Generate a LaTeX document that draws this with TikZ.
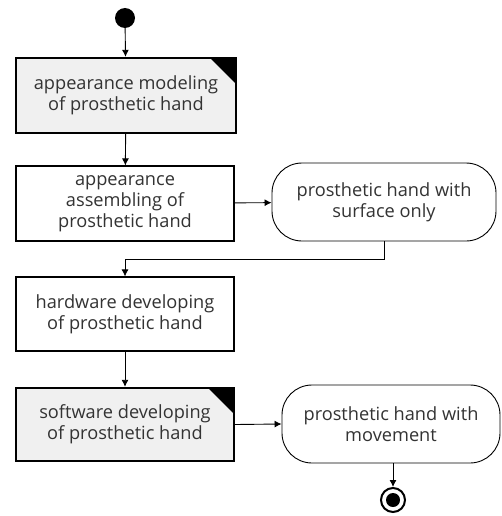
\documentclass[tikz,border=0pt]{standalone}
\usepackage{fontspec}
\setmainfont{Open Sans}
\usepackage{xcolor}
\usetikzlibrary{arrows.meta, positioning, calc}

\definecolor{txtgray}{HTML}{333333}
\definecolor{boxgray}{HTML}{F0F0F0}

\begin{document}
\begin{tikzpicture}[
    x=1pt, y=-1pt,
    font=\fontsize{18.2}{21}\selectfont\color{txtgray},
    act/.style={rectangle, draw, line width=1.1pt, fill=white, minimum width=218pt, minimum height=75pt, align=center, inner sep=2pt},
    sub/.style={act, line width=2.4pt, fill=boxgray},
    state/.style={rectangle, draw, line width=0.9pt, rounded corners=30pt, fill=white, minimum width=224pt, minimum height=78pt, align=center},
    flow/.style={line width=0.9pt, -{Latex[length=7pt,width=7pt]}}
]
\useasboundingbox (0,0) rectangle (502,516);

% start
\node[circle, fill=black, minimum size=20pt, inner sep=0pt] (start) at (125,18) {};

% modeling
\node[sub, minimum width=220pt] (model) at (126,95.5) {appearance modeling\\of prosthetic hand};
\fill ($(model.north east)+(-27,1.2)$) -- ($(model.north east)+(-1.2,1.2)$) -- ($(model.north east)+(-1.2,27)$) -- cycle;

% assembling
\node[act] (assemble) at (125,203.5) {appearance\\assembling of\\prosthetic hand};
\node[state] (surface) at (384,202) {prosthetic hand with\\surface only};

% hardware
\node[act, minimum height=74pt] (hardware) at (125,314) {hardware developing\\of prosthetic hand};

% software
\node[sub, minimum height=73pt] (software) at (125,424.5) {software developing\\of prosthetic hand};
\fill ($(software.north east)+(-27,1.2)$) -- ($(software.north east)+(-1.2,1.2)$) -- ($(software.north east)+(-1.2,27)$) -- cycle;
\node[state, minimum width=218pt] (movement) at (391,424) {prosthetic hand with\\movement};

% end
\node[circle, draw, line width=2pt, minimum size=24pt, inner sep=0pt] (stop) at (393,500) {};
\node[circle, fill=black, minimum size=14pt, inner sep=0pt] (stopdot) at (stop) {};

\draw[flow] (start) -- (model);
\draw[flow] (model) -- (assemble);
\draw[flow] (assemble) -- (surface);
\draw[flow] (surface.south) -- ++(0,18) -| (hardware.north);
\draw[flow] (hardware) -- (software);
\draw[flow] (software.east) -- (movement.west);
\draw[flow] (movement.south -| stop) -- (stop.north);

\end{tikzpicture}
\end{document}
